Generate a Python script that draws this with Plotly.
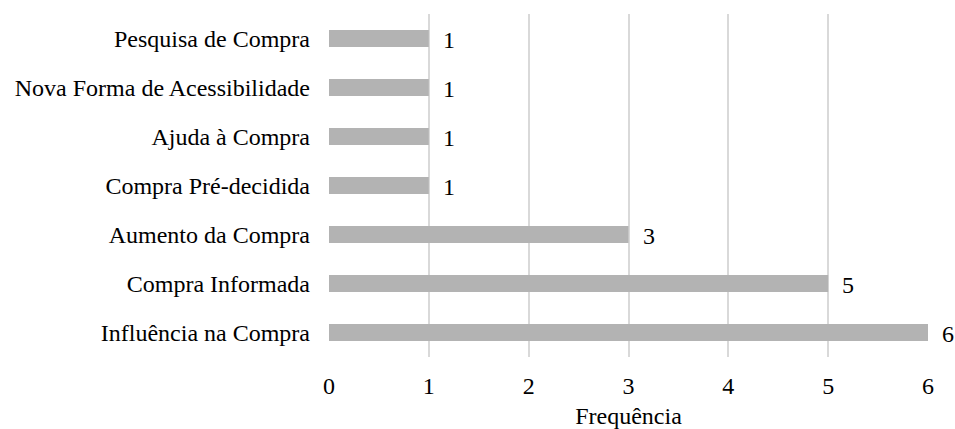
import plotly.graph_objects as go

categories = ["Influência na Compra", "Compra Informada", "Aumento da Compra",
              "Compra Pré-decidida", "Ajuda à Compra", "Nova Forma de Acessibilidade",
              "Pesquisa de Compra"]
values = [6, 5, 3, 1, 1, 1, 1]
tick_vals = [0, 1, 2, 3, 4, 5, 6]

FONT = "'Liberation Serif', 'Times New Roman', serif"

fig = go.Figure(go.Bar(
    x=values, y=categories, orientation="h",
    marker=dict(color="#b3b3b3", line=dict(width=0)),
    width=0.35,
))

for c, v in zip(categories, values):
    fig.add_annotation(x=v, y=c, text=str(v), showarrow=False,
                       xanchor="left", xshift=12, yshift=-1,
                       font=dict(family=FONT, size=24, color="#000000"))

fig.update_layout(
    width=955, height=429,
    margin=dict(l=329, r=27, t=14, b=72, autoexpand=False),
    paper_bgcolor="white", plot_bgcolor="white",
    font=dict(family=FONT, size=24, color="#000000"),
    showlegend=False,
)
fig.update_xaxes(range=[0, 6], tickvals=tick_vals, showgrid=True,
                 gridcolor="#d9d9d9", gridwidth=1.5, zeroline=False,
                 showline=False, ticks="", ticklen=0, automargin=False,
                 ticklabelstandoff=12,
                 title=dict(text="Frequência", standoff=12,
                            font=dict(family=FONT, size=24)))
fig.update_yaxes(showgrid=False, zeroline=False, showline=False, ticks="",
                 automargin=False, ticklabelstandoff=18, range=[-0.5, 6.5])

fig.write_html(
    "out.html",
    config={"displayModeBar": False},
    post_script="document.body.style.margin='0';document.body.style.overflow='hidden';",
)
